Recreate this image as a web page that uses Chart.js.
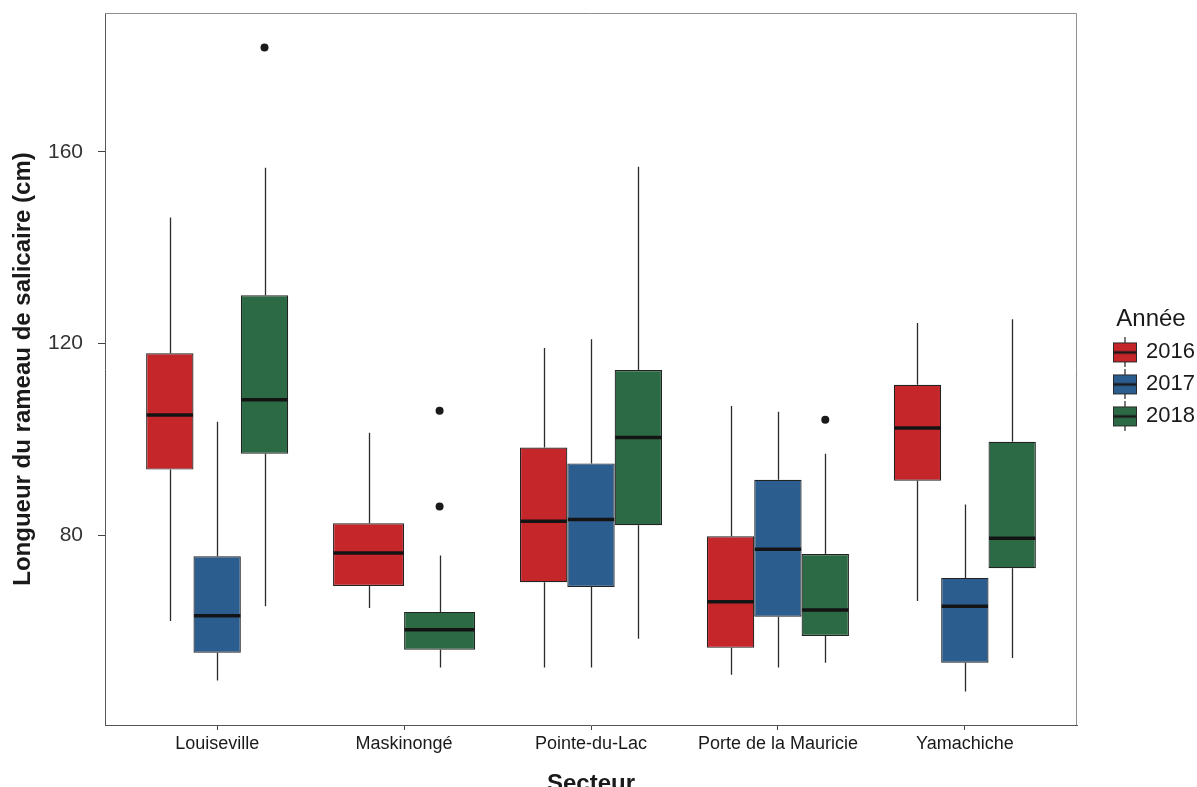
<!DOCTYPE html>
<html>
<head>
<meta charset="utf-8">
<script src="https://cdn.jsdelivr.net/npm/chart.js@4.4.1/dist/chart.umd.min.js"></script>
<style>
  html, body { margin: 0; padding: 0; background: #ffffff; }
  #wrap { width: 1197px; height: 787px; }
</style>
</head>
<body>
<div id="wrap"><canvas id="c" width="1197" height="787"></canvas></div>
<script>
// Sectors on the x axis and the three sampling years
const categories = ['Louiseville', 'Maskinongé', 'Pointe-du-Lac', 'Porte de la Mauricie', 'Yamachiche'];
const years = ['2016', '2017', '2018'];
const yTicks = [80, 120, 160];

// Box-plot statistics per sector (cm): lower whisker, Q1, median, Q3, upper whisker
const low2016 = [62.1, 64.8, 52.4, 50.9, 66.3];
const q1_2016 = [93.7, 69.4, 70.2, 56.5, 91.4];
const med2016 = [105.1, 76.3, 82.9, 66.1, 102.4];
const q3_2016 = [118.0, 82.5, 98.3, 79.8, 111.4];
const high2016 = [146.3, 101.4, 119.1, 107.0, 124.3];
const out2016 = [[], [], [], [], []];

const low2017 = [49.7, null, 52.4, 52.4, 47.4];
const q1_2017 = [55.5, null, 69.2, 63.0, 53.4];
const med2017 = [63.2, null, 83.3, 77.1, 65.2];
const q3_2017 = [75.6, null, 95.0, 91.6, 71.1];
const high2017 = [103.7, null, 120.9, 105.8, 86.4];
const out2017 = [[], [], [], [], []];

const low2018 = [65.2, 52.4, 58.4, 53.4, 54.4];
const q1_2018 = [97.0, 56.1, 82.1, 59.0, 73.1];
const med2018 = [108.3, 60.3, 100.4, 64.4, 79.4];
const q3_2018 = [130.1, 64.0, 114.5, 76.1, 99.5];
const high2018 = [156.7, 75.8, 156.9, 97.0, 125.1];
const out2018 = [[181.8], [106.0, 86.0], [], [104.1], []];

const fills = ['#c4262a', '#2c5d8f', '#2c6a45'];

const stats = [
  { lo: low2016, q1: q1_2016, med: med2016, q3: q3_2016, hi: high2016, out: out2016 },
  { lo: low2017, q1: q1_2017, med: med2017, q3: q3_2017, hi: high2017, out: out2017 },
  { lo: low2018, q1: q1_2018, med: med2018, q3: q3_2018, hi: high2018, out: out2018 }
];

// Boxes are floating bars spanning Q1..Q3
const datasets = years.map((yr, d) => ({
  label: yr,
  data: categories.map((c, i) => ({
    x: i + 1,
    y: stats[d].q1[i] == null ? null : [stats[d].q1[i], stats[d].q3[i]]
  })),
  backgroundColor: fills[d],
  borderColor: '#222222',
  borderWidth: 1.2,
  borderSkipped: false,
  categoryPercentage: 0.76,
  barPercentage: 1.0
}));

// Small box-plot glyph used as legend key
function keyGlyph(color) {
  const cv = document.createElement('canvas');
  cv.width = 26; cv.height = 30;
  const g = cv.getContext('2d');
  g.strokeStyle = '#333';
  g.lineWidth = 1.3;
  g.beginPath(); g.moveTo(13, 0); g.lineTo(13, 30); g.stroke();
  g.fillStyle = color;
  g.fillRect(1.5, 5.5, 23, 19);
  g.lineWidth = 1;
  g.strokeStyle = '#2a2a2a';
  g.strokeRect(1.5, 5.5, 23, 19);
  g.lineWidth = 2.5;
  g.strokeStyle = '#1a1a1a';
  g.beginPath(); g.moveTo(1.5, 15); g.lineTo(24.5, 15); g.stroke();
  return cv;
}

// Whiskers, medians and outliers, positioned from the bar elements and the y scale
const boxPlotParts = {
  id: 'boxPlotParts',
  beforeDatasetsDraw(chart) {
    const ctx = chart.ctx, ys = chart.scales.y;
    ctx.save();
    ctx.strokeStyle = '#2b2b2b';
    ctx.lineWidth = 1.3;
    chart.data.datasets.forEach((ds, d) => {
      chart.getDatasetMeta(d).data.forEach((el, i) => {
        const s = stats[d];
        if (s.q1[i] == null) return;
        const x = Math.round(el.x) + 0.5;
        ctx.beginPath();
        ctx.moveTo(x, ys.getPixelForValue(s.q3[i]));
        ctx.lineTo(x, ys.getPixelForValue(s.hi[i]));
        ctx.moveTo(x, ys.getPixelForValue(s.q1[i]));
        ctx.lineTo(x, ys.getPixelForValue(s.lo[i]));
        ctx.stroke();
      });
    });
    ctx.restore();
  },
  afterDatasetsDraw(chart) {
    const ctx = chart.ctx, ys = chart.scales.y;
    ctx.save();
    chart.data.datasets.forEach((ds, d) => {
      chart.getDatasetMeta(d).data.forEach((el, i) => {
        const s = stats[d];
        if (s.q1[i] == null) return;
        const half = el.width / 2;
        const ym = ys.getPixelForValue(s.med[i]);
        ctx.strokeStyle = '#141414';
        ctx.lineWidth = 3.5;
        ctx.beginPath();
        ctx.moveTo(el.x - half + 0.5, ym);
        ctx.lineTo(el.x + half - 0.5, ym);
        ctx.stroke();
        ctx.fillStyle = '#1a1a1a';
        s.out[i].forEach(v => {
          ctx.beginPath();
          ctx.arc(el.x, ys.getPixelForValue(v), 4, 0, Math.PI * 2);
          ctx.fill();
        });
      });
    });
    ctx.restore();
  }
};

// Panel outline (top and right sides; left and bottom come from the axes)
const panelOutline = {
  id: 'panelOutline',
  beforeDatasetsDraw(chart) {
    const { left, top, right, bottom } = chart.chartArea;
    const ctx = chart.ctx;
    ctx.save();
    ctx.strokeStyle = '#8f8f8f';
    ctx.lineWidth = 1;
    ctx.beginPath();
    ctx.moveTo(left, top + 0.5);
    ctx.lineTo(right - 0.5, top + 0.5);
    ctx.lineTo(right - 0.5, bottom);
    ctx.stroke();
    ctx.restore();
  }
};

const sans = "'Liberation Sans', Arial, Helvetica, sans-serif";

function noEdgePadding(scale) {
  scale.paddingTop = 0;
  scale.paddingBottom = 0;
  scale.paddingLeft = 0;
  scale.paddingRight = 0;
}

new Chart(document.getElementById('c'), {
  type: 'bar',
  data: { datasets },
  plugins: [panelOutline, boxPlotParts],
  options: {
    responsive: false,
    devicePixelRatio: 1,
    animation: false,
    layout: { padding: { top: 13, left: 0, right: 0, bottom: 0 } },
    datasets: { bar: { skipNull: true, grouped: true } },
    scales: {
      x: {
        type: 'linear',
        min: 0.4,
        max: 5.6,
        offset: false,
        afterBuildTicks(axis) { axis.ticks = categories.map((c, i) => ({ value: i + 1 })); },
        afterFit(scale) { scale.height = 62; noEdgePadding(scale); },
        ticks: {
          autoSkip: false,
          maxRotation: 0,
          padding: 3,
          color: '#1a1a1a',
          font: { family: sans, size: 18 },
          callback: (v) => categories[Math.round(v) - 1] || ''
        },
        grid: { display: true, drawOnChartArea: false, drawTicks: true, tickLength: 5, color: '#444', offset: false },
        border: { display: true, color: '#555', width: 1 },
        title: {
          display: true,
          text: 'Secteur',
          color: '#1a1a1a',
          font: { family: sans, size: 24, weight: 'bold' },
          padding: { top: 0, bottom: -12 }
        }
      },
      y: {
        type: 'linear',
        min: 40.4,
        max: 189,
        afterBuildTicks(axis) { axis.ticks = yTicks.map(v => ({ value: v })); },
        afterFit(scale) { scale.width = 105; noEdgePadding(scale); },
        ticks: {
          padding: 15,
          color: '#333',
          font: { family: "'Liberation Sans Narrow', 'Arial Narrow', " + sans, size: 21 }
        },
        grid: { display: true, drawOnChartArea: false, drawTicks: true, tickLength: 7, color: '#444' },
        border: { display: true, color: '#555', width: 1 },
        title: {
          display: true,
          text: 'Longueur du rameau de salicaire (cm)',
          color: '#1a1a1a',
          font: { family: sans, size: 24, weight: 'bold' },
          padding: { top: 9, bottom: 0 }
        }
      },
      gap: {
        type: 'linear',
        position: 'right',
        display: true,
        afterFit(scale) { scale.width = 28; noEdgePadding(scale); },
        ticks: { display: false },
        grid: { display: false },
        border: { display: false }
      }
    },
    plugins: {
      tooltip: { enabled: false },
      legend: {
        display: true,
        position: 'right',
        fullSize: false,
        align: 'center',
        maxWidth: 92,
        title: {
          display: true,
          text: 'Année',
          position: 'center',
          color: '#1a1a1a',
          font: { family: sans, size: 24 },
          padding: { top: 7, bottom: -5 }
        },
        labels: {
          usePointStyle: true,
          pointStyleWidth: 20,
          padding: 10,
          color: '#1a1a1a',
          font: { family: sans, size: 22 },
          generateLabels: () => years.map((yr, i) => ({
            text: yr,
            pointStyle: keyGlyph(fills[i]),
            fillStyle: fills[i],
            strokeStyle: '#2a2a2a',
            lineWidth: 0,
            hidden: false,
            datasetIndex: i,
            fontColor: '#1a1a1a'
          }))
        }
      }
    }
  }
});
</script>
</body>
</html>
